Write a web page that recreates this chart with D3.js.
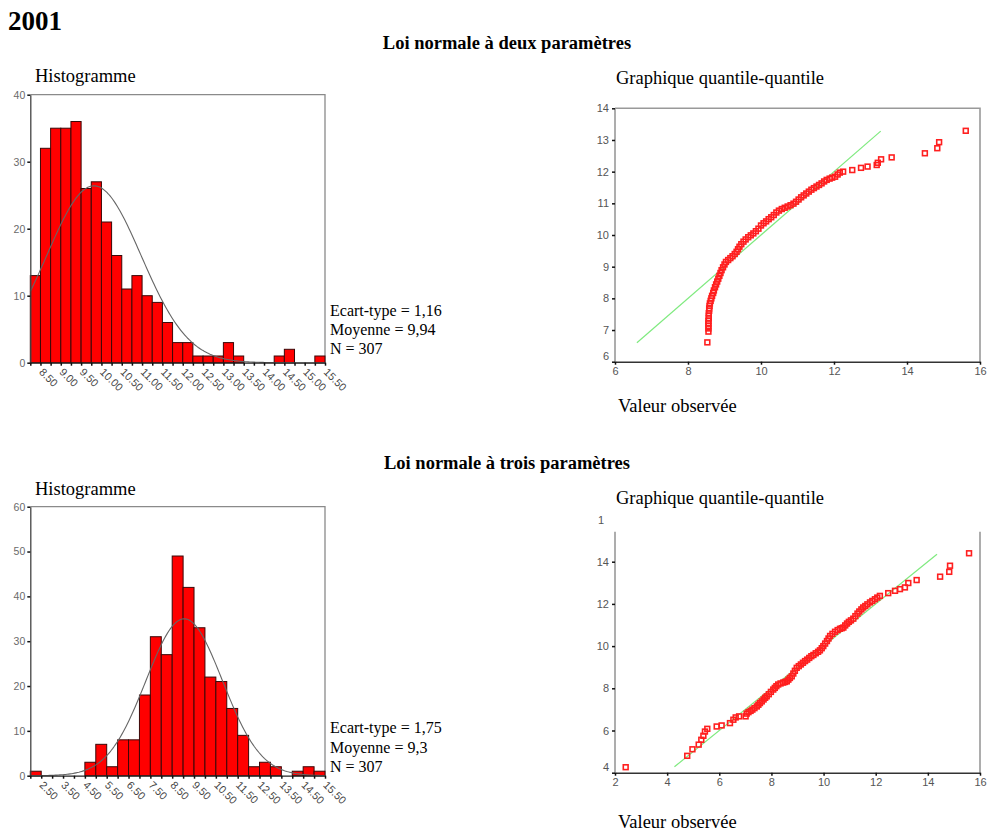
<!DOCTYPE html>
<html><head><meta charset="utf-8">
<script src="https://cdn.jsdelivr.net/npm/d3@7/dist/d3.min.js"></script>
<style>body{margin:0;background:#fff}svg{display:block}</style>
</head><body>
<svg id="c" width="991" height="835"></svg>
<script>
// ---------- DATA ----------
// 2001 - Loi normale à deux paramètres
const hist1Bins = [8.50,8.75,9.00,9.25,9.50,9.75,10.00,10.25,10.50,10.75,11.00,11.25,11.50,11.75,12.00,12.25,12.50,12.75,13.00,13.25,13.50,13.75,14.00,14.25,14.50,14.75,15.00,15.25,15.50];
const hist1Counts = [13,32,35,35,36,26,27,21,16,11,13,10,9,6,3,3,1,1,1,3,1,0,0,0,1,2,0,0,1];
const hist1Labels = ["8.50","9.00","9.50","10.00","10.50","11.00","11.50","12.00","12.50","13.00","13.50","14.00","14.50","15.00","15.50"];
const hist1YTicks = [0,10,20,30,40];
const hist1Stats = {sd:1.16, mean:9.94, n:307};
const hist1Text = ["Ecart-type = 1,16","Moyenne = 9,94","N = 307"];

const qq1Observed = [8.53,8.56,8.56,8.56,8.56,8.56,8.57,8.57,8.57,8.58,8.58,8.59,8.60,8.62,8.64,8.66,8.69,8.71,8.74,8.77,8.80,8.83,8.86,8.89,8.92,8.96,9.00,9.04,9.10,9.16,9.22,9.28,9.33,9.37,9.41,9.46,9.52,9.58,9.65,9.72,9.79,9.86,9.93,10.00,10.07,10.14,10.21,10.28,10.35,10.42,10.49,10.57,10.65,10.73,10.81,10.89,10.96,11.03,11.10,11.17,11.24,11.31,11.38,11.45,11.52,11.59,11.66,11.73,11.80,11.88,11.95,12.03,12.10,12.16,12.25,12.50,12.74,12.92,13.17,13.20,13.29,13.58,14.49,14.83,14.88,15.61];
const qq1Expected = [6.61,6.95,7.05,7.13,7.21,7.29,7.37,7.45,7.53,7.61,7.68,7.76,7.84,7.92,8.00,8.08,8.17,8.25,8.35,8.44,8.53,8.62,8.71,8.80,8.89,8.98,9.07,9.15,9.21,9.27,9.33,9.40,9.47,9.55,9.63,9.71,9.79,9.86,9.93,9.99,10.05,10.12,10.20,10.30,10.37,10.43,10.50,10.56,10.63,10.71,10.77,10.82,10.86,10.90,10.94,10.99,11.05,11.12,11.19,11.25,11.31,11.37,11.43,11.48,11.53,11.58,11.63,11.69,11.74,11.78,11.81,11.84,11.91,11.97,12.00,12.05,12.12,12.16,12.21,12.28,12.39,12.45,12.58,12.74,12.93,13.29];
const qq1Line = [6.6, 13.28];
const qq1XTicks = [6,8,10,12,14,16];
const qq1YTicks = [6,7,8,9,10,11,12,13,14];

// 2001 - Loi normale à trois paramètres
const hist2Bins = [2.5,3.0,3.5,4.0,4.5,5.0,5.5,6.0,6.5,7.0,7.5,8.0,8.5,9.0,9.5,10.0,10.5,11.0,11.5,12.0,12.5,13.0,13.5,14.0,14.5,15.0,15.5];
const hist2Counts = [1,0,0,0,0,3,7,2,8,8,18,31,27,49,42,33,22,21,15,9,2,3,2,0,1,2,1];
const hist2Labels = ["2.50","3.50","4.50","5.50","6.50","7.50","8.50","9.50","10.50","11.50","12.50","13.50","14.50","15.50"];
const hist2YTicks = [0,10,20,30,40,50,60];
const hist2Stats = {sd:1.75, mean:9.3, n:307};
const hist2Text = ["Ecart-type = 1,75","Moyenne = 9,3","N = 307"];

const qq2Observed = [2.41,4.77,4.97,5.21,5.31,5.39,5.45,5.54,5.90,6.09,6.41,6.54,6.63,6.76,7.01,7.05,7.12,7.20,7.27,7.35,7.44,7.50,7.56,7.63,7.70,7.76,7.82,7.90,7.98,8.07,8.13,8.19,8.26,8.35,8.45,8.52,8.59,8.65,8.71,8.78,8.84,8.90,8.97,9.05,9.13,9.21,9.29,9.37,9.45,9.53,9.61,9.70,9.79,9.86,9.93,9.99,10.06,10.13,10.19,10.25,10.34,10.44,10.54,10.63,10.70,10.76,10.83,10.90,10.97,11.05,11.14,11.22,11.30,11.37,11.45,11.52,11.60,11.68,11.78,11.87,11.97,12.06,12.16,12.48,12.74,12.93,13.12,13.25,13.57,14.47,14.82,14.85,15.58];
const qq2Expected = [4.26,4.80,5.11,5.33,5.56,5.75,5.95,6.08,6.19,6.24,6.35,6.51,6.62,6.67,6.67,6.80,6.87,6.93,6.99,7.06,7.14,7.22,7.30,7.38,7.47,7.55,7.62,7.72,7.83,7.94,8.02,8.10,8.18,8.23,8.27,8.30,8.33,8.41,8.49,8.57,8.70,8.83,8.97,9.05,9.13,9.21,9.29,9.36,9.44,9.52,9.58,9.66,9.73,9.80,9.90,10.00,10.12,10.24,10.36,10.48,10.58,10.68,10.76,10.82,10.85,10.88,10.98,11.07,11.15,11.22,11.30,11.42,11.54,11.64,11.74,11.83,11.90,11.98,12.07,12.14,12.22,12.30,12.38,12.51,12.62,12.70,12.78,12.99,13.13,13.29,13.52,13.81,14.40];
const qq2Line = [4.28, 14.35];
const qq2XTicks = [2,4,6,8,10,12,14,16];
const qq2YTicks = [4,6,8,10,12,14];

// ---------- DRAWING ----------
const svg = d3.select("#c");
const serif = "'Liberation Serif','Times New Roman',serif";
const sans = "'Liberation Sans',Arial,sans-serif";

function txt(x, y, s, size, opts = {}) {
  return svg.append("text").attr("x", x).attr("y", y).text(s)
    .attr("font-family", opts.family || serif).attr("font-size", size)
    .attr("font-weight", opts.bold ? "bold" : "normal")
    .attr("text-anchor", opts.anchor || "start")
    .attr("fill", opts.fill || "#000");
}

function histogram(cfg) {
  const {bins, counts, labels, yTicks, stats, legend, left, right, top, base, legendY} = cfg;
  const w = bins[1] - bins[0];
  const x = d3.scaleLinear().domain([bins[0] - w / 2, bins[bins.length - 1] + w / 2]).range([left, right]);
  const y = d3.scaleLinear().domain([0, yTicks[yTicks.length - 1]]).range([base, top]);
  const g = svg.append("g");
  g.append("path").attr("d", `M${left},${top}H${right}V${base}`)
    .attr("fill", "none").attr("stroke", "#8a8a8a").attr("stroke-width", 1.3);
  g.selectAll("rect").data(bins).join("rect")
    .attr("x", d => x(d - w / 2)).attr("width", d => x(d + w / 2) - x(d - w / 2))
    .attr("y", (d, i) => y(counts[i])).attr("height", (d, i) => y(0) - y(counts[i]))
    .attr("fill", "#ff0000").attr("stroke", "#3a0808").attr("stroke-width", 1);
  const dom = x.domain();
  const pdf = v => stats.n * w * Math.exp(-0.5 * ((v - stats.mean) / stats.sd) ** 2) / (stats.sd * Math.sqrt(2 * Math.PI));
  const xs = d3.range(201).map(i => dom[0] + i * (dom[1] - dom[0]) / 200);
  g.append("path").datum(xs).attr("d", d3.line().x(v => x(v)).y(v => y(pdf(v))))
    .attr("fill", "none").attr("stroke", "#666").attr("stroke-width", 1.1);
  // y axis
  const ya = g.append("g").attr("transform", `translate(${left},0)`)
    .call(d3.axisLeft(y).tickValues(yTicks).tickSize(3).tickSizeOuter(0).tickPadding(2).tickFormat(d3.format("d")));
  ya.select(".domain").attr("stroke", "#444").attr("stroke-width", 1.3);
  ya.selectAll(".tick line").attr("stroke", "#111").attr("stroke-width", 1.5);
  ya.selectAll(".tick text").attr("font-family", sans).attr("font-size", 10.5).attr("fill", "#6a6a6a");
  // x axis: tick marks at bin edges
  const edges = bins.map(b => b - w / 2).concat([bins[bins.length - 1] + w / 2]);
  const xa = g.append("g").attr("transform", `translate(0,${base})`)
    .call(d3.axisBottom(x).tickValues(edges).tickSize(3).tickSizeOuter(0).tickFormat(""));
  xa.select(".domain").attr("stroke", "#222").attr("stroke-width", 1.3);
  xa.selectAll(".tick line").attr("stroke", "#111").attr("stroke-width", 1.5);
  g.selectAll("text.xl").data(labels).join("text").attr("class", "xl")
    .attr("transform", d => `translate(${x(+d) + 3},${base + 10}) rotate(45)`)
    .attr("font-family", sans).attr("font-size", 10.8).attr("fill", "#444").text(d => d);
  legend.forEach((s, i) => txt(330, legendY + i * 19.2, s, 16));
}

function qqplot(cfg) {
  const {obs, exp, line, xTicks, yTicks, left, right, yBottom, yTop, frameTop, drawTop, extraLabel} = cfg;
  const x = d3.scaleLinear().domain([xTicks[0], xTicks[xTicks.length - 1]]).range([left, right]);
  const y = d3.scaleLinear().domain([yTicks[0], yTicks[yTicks.length - 1]]).range([yBottom, yTop]);
  const g = svg.append("g");
  const fr = drawTop ? `M${left},${frameTop}H${right}V${yBottom}` : `M${right},${frameTop}V${yBottom}`;
  g.append("path").attr("d", fr).attr("fill", "none").attr("stroke", "#999").attr("stroke-width", 1.6);
  g.append("path").attr("d", `M${left},${frameTop}V${yBottom}`).attr("fill", "none").attr("stroke", "#999").attr("stroke-width", 1.6);
  const ya = g.append("g").attr("transform", `translate(${left},0)`)
    .call(d3.axisLeft(y).tickValues(yTicks).tickSize(3).tickSizeOuter(0).tickPadding(3));
  ya.select(".domain").remove();
  ya.selectAll(".tick line").attr("stroke", "#111").attr("stroke-width", 1.5);
  ya.selectAll(".tick text").attr("font-family", sans).attr("font-size", 11).attr("fill", "#555")
    .attr("dy", (d, i) => i === 0 ? "-0.2em" : "0.32em");
  const xa = g.append("g").attr("transform", `translate(0,${yBottom})`)
    .call(d3.axisBottom(x).tickValues(xTicks).tickSize(3).tickSizeOuter(0).tickPadding(3));
  xa.select(".domain").attr("stroke", "#333").attr("stroke-width", 1.5);
  xa.selectAll(".tick line").attr("stroke", "#111").attr("stroke-width", 1.5);
  xa.selectAll(".tick text").attr("font-family", sans).attr("font-size", 11).attr("fill", "#555");
  if (extraLabel) {
    g.append("text").attr("x", left - 17).attr("y", y(extraLabel.value) + 4).text(extraLabel.text)
      .attr("font-family", sans).attr("font-size", 11).attr("fill", "#555");
  }
  g.append("line").attr("x1", x(line[0])).attr("y1", y(line[0])).attr("x2", x(line[1])).attr("y2", y(line[1]))
    .attr("stroke", "#7fea7f").attr("stroke-width", 1.2);
  const s = 4.8;
  g.selectAll("rect.pt").data(obs).join("rect").attr("class", "pt")
    .attr("x", d => x(d) - s / 2).attr("y", (d, i) => y(exp[i]) - s / 2)
    .attr("width", s).attr("height", s)
    .attr("fill", "none").attr("stroke", "#ff1f1f").attr("stroke-width", 1.6);
}

// Titles
txt(8, 30, "2001", 27, {bold: true});
txt(507, 49, "Loi normale à deux paramètres", 18.5, {bold: true, anchor: "middle"});
txt(507, 469, "Loi normale à trois paramètres", 18.5, {bold: true, anchor: "middle"});
txt(35, 82, "Histogramme", 18.5);
txt(35, 495, "Histogramme", 18.5);
txt(616, 84, "Graphique quantile-quantile", 18.5);
txt(616, 504, "Graphique quantile-quantile", 18.5);
txt(618, 412, "Valeur observée", 18.5);
txt(618, 828, "Valeur observée", 18.5);

histogram({bins: hist1Bins, counts: hist1Counts, labels: hist1Labels, yTicks: hist1YTicks,
  stats: hist1Stats, legend: hist1Text, left: 30.3, right: 325, top: 94.7, base: 362.7, legendY: 316});
histogram({bins: hist2Bins, counts: hist2Counts, labels: hist2Labels, yTicks: hist2YTicks,
  stats: hist2Stats, legend: hist2Text, left: 30.3, right: 325, top: 506.7, base: 775.7, legendY: 733.3});

qqplot({obs: qq1Observed, exp: qq1Expected, line: qq1Line, xTicks: qq1XTicks, yTicks: qq1YTicks,
  left: 615, right: 980, yBottom: 361.7, yTop: 108.3, frameTop: 108.3, drawTop: true});
qqplot({obs: qq2Observed, exp: qq2Expected, line: qq2Line, xTicks: qq2XTicks, yTicks: qq2YTicks,
  left: 615, right: 980, yBottom: 772.7, yTop: 561.7, frameTop: 531.7, drawTop: false,
  extraLabel: {value: 16, text: "1"}});
</script>
</body></html>
